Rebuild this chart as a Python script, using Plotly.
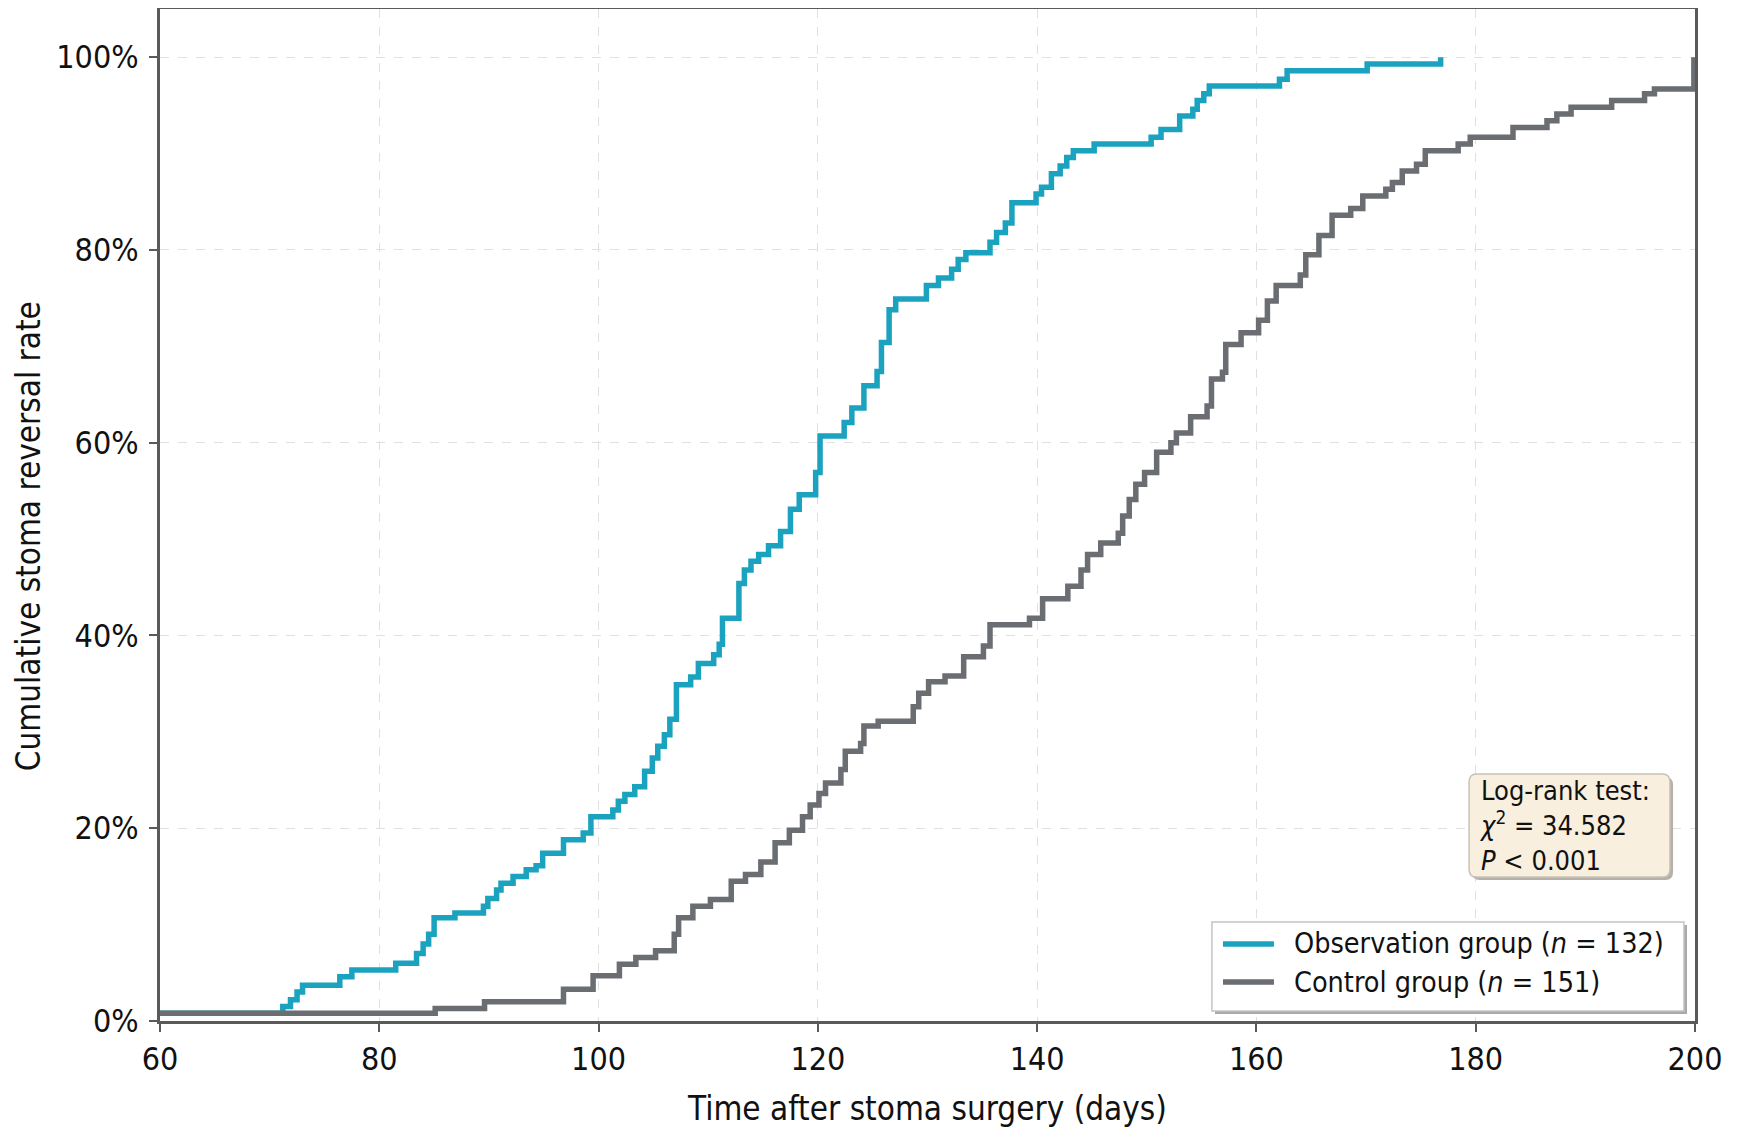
import plotly.graph_objects as go

# Observation group: event times (days) and cumulative reversal rate (%) after each event
obs_t = [60, 71.2, 71.9, 72.5, 73.0, 76.4, 77.5, 81.5, 83.4, 84.0, 84.5, 85.0, 86.9, 89.5, 89.9,
         90.7, 91.1, 92.2, 93.4, 94.3, 94.9, 96.8, 98.6, 99.3, 101.3, 101.8, 102.4, 103.3, 104.2,
         104.9, 105.4, 106.0, 106.5, 107.1, 108.4, 109.1, 110.5, 111.0, 111.3, 112.8, 113.3, 113.9,
         114.6, 115.5, 116.6, 117.5, 118.3, 119.8, 120.2, 122.4, 123.1, 124.2, 125.4, 125.8, 126.5,
         127.1, 129.9, 131.0, 132.2, 132.8, 133.5, 135.7, 136.3, 137.1, 137.7, 139.9, 140.4, 141.3,
         142.1, 142.7, 143.3, 145.2, 150.4, 151.3, 153.0, 154.2, 154.6, 155.2, 155.7, 162.1, 162.8,
         170.1, 176.8]
obs_p = [0.8, 1.5, 2.2, 3.0, 3.7, 4.6, 5.3, 6.0, 7.0, 8.0, 9.0, 10.7, 11.2, 11.9, 12.7,
         13.6, 14.3, 15.0, 15.7, 16.1, 17.4, 18.8, 19.5, 21.2, 21.9, 22.8, 23.5, 24.3, 25.9,
         27.3, 28.5, 29.7, 31.3, 34.9, 35.7, 37.1, 38.0, 39.1, 41.8, 45.4, 46.8, 47.7,
         48.4, 49.3, 50.8, 53.1, 54.6, 56.9, 60.7, 62.1, 63.6, 65.9, 67.4, 70.4, 73.8,
         74.9, 76.3, 77.1, 78.0, 79.0, 79.7, 80.8, 81.8, 82.8, 84.9, 85.8, 86.5, 87.9,
         88.7, 89.6, 90.3, 91.0, 91.7, 92.5, 93.9, 94.6, 95.5, 96.2, 97.0, 97.7, 98.6,
         99.3, 100.0]

# Control group
ctl_t = [60, 85.1, 89.6, 96.8, 99.5, 101.9, 103.4, 105.2, 106.9, 107.3, 108.6, 110.2, 112.1,
         113.4, 114.8, 116.1, 117.4, 118.6, 119.3, 120.1, 120.7, 122.1, 122.5, 123.9, 124.2,
         125.5, 128.7, 129.2, 130.1, 131.6, 133.3, 135.1, 135.7, 139.3, 140.5, 142.8, 144.0,
         144.6, 145.8, 147.4, 147.8, 148.4, 149.0, 149.8, 150.9, 152.2, 152.7, 154.0, 155.5,
         155.9, 156.9, 157.2, 158.6, 160.2, 161.0, 161.8, 164.0, 164.5, 165.7, 166.9, 168.6,
         169.7, 171.8, 172.4, 173.3, 174.6, 175.4, 178.4, 179.5, 183.4, 186.5, 187.4, 188.7,
         192.4, 195.4, 196.3, 199.9]
ctl_p = [0.8, 1.3, 2.0, 3.3, 4.7, 5.9, 6.6, 7.3, 9.0, 10.7, 11.9, 12.6, 14.5,
         15.2, 16.5, 18.5, 19.8, 21.2, 22.4, 23.6, 24.7, 26.1, 28.0, 28.8, 30.6,
         31.1, 32.6, 34.0, 35.2, 35.8, 37.8, 38.9, 41.1, 41.8, 43.8, 45.1, 46.8,
         48.4, 49.6, 50.6, 52.4, 54.1, 55.7, 56.9, 59.0, 60.0, 61.0, 62.7, 63.8,
         66.6, 67.3, 70.2, 71.4, 72.7, 74.7, 76.3, 77.4, 79.5, 81.5, 83.6, 84.3,
         85.6, 86.3, 87.0, 88.2, 88.9, 90.3, 91.0, 91.7, 92.7, 93.4, 94.1, 94.8,
         95.5, 96.2, 96.7, 100.0]

series_names = ["Observation group (<i>n</i> = 132)", "Control group (<i>n</i> = 151)"]
x_ticks = [60, 80, 100, 120, 140, 160, 180, 200]
y_ticks = [0, 20, 40, 60, 80, 100]
y_tick_labels = ["0%", "20%", "40%", "60%", "80%", "100%"]
stat_lines = ["Log-rank test:", "<i>χ</i><sup>2</sup> = 34.582", "<i>P</i> &lt; 0.001"]

FONT = "DejaVu Sans Condensed, DejaVu Sans, sans-serif"
CYAN = "#1aa2bf"
GREY = "#6a6d71"
AXIS = "#5a5a5a"
TXT = "#111111"
colors = [CYAN, GREY]

fig = go.Figure()
for t, p, c, n in zip([obs_t, ctl_t], [obs_p, ctl_p], colors, series_names):
    fig.add_trace(go.Scatter(x=t, y=p, mode="lines", line_shape="hv",
                             line=dict(color=c, width=5.5), name=n, showlegend=False))

fig.update_layout(
    width=1744, height=1138,
    margin=dict(l=152, r=57, t=1, b=125),
    paper_bgcolor="white", plot_bgcolor="white",
    font=dict(family=FONT, size=28, color=TXT),
    xaxis=dict(range=[60, 200], tickvals=x_ticks, ticks="outside", ticklen=8, tickwidth=2,
               tickcolor=AXIS, showline=True, linecolor=AXIS, linewidth=3, mirror=True,
               showgrid=True, gridcolor="#e0e0e0", griddash="dash", gridwidth=1,
               zeroline=False, automargin=False,
               tickfont=dict(size=32),
               title=dict(text="Time after stoma surgery (days)", font=dict(size=33), standoff=20)),
    yaxis=dict(range=[0, 105], tickvals=y_ticks, ticktext=y_tick_labels, ticks="outside",
               ticklen=8, tickwidth=2, tickcolor=AXIS, showline=True, linecolor=AXIS,
               linewidth=3, mirror=True, showgrid=True, gridcolor="#e0e0e0", griddash="dash",
               gridwidth=1, zeroline=False, automargin=False,
               tickfont=dict(size=32), ticklabelstandoff=4),
    showlegend=False,
)

# y-axis title (placed slightly below the plot centre, as in the original)
fig.add_annotation(xref="paper", yref="paper", x=-0.086, y=0.479, xanchor="center",
                   yanchor="middle", textangle=-90, showarrow=False,
                   text="Cumulative stoma reversal rate", font=dict(size=33, color=TXT))

# ---- legend box (drawn manually to match the original layout) ----
lx0, lx1, ly0, ly1 = 0.6853, 0.9928, 0.0099, 0.0978
fig.add_shape(type="rect", xref="paper", yref="paper", x0=lx0 + 0.002, x1=lx1 + 0.002,
              y0=ly0 - 0.003, y1=ly1 - 0.003, fillcolor="#a9a9a9", line=dict(width=0), layer="above")
fig.add_shape(type="rect", xref="paper", yref="paper", x0=lx0, x1=lx1, y0=ly0, y1=ly1,
              fillcolor="white", line=dict(color="#c4c4c4", width=1.5), layer="above")
row_y = [0.0761, 0.0385]
for c, n, yy in zip(colors, series_names, row_y):
    fig.add_shape(type="line", xref="paper", yref="paper", x0=0.6925, x1=0.7257, y0=yy, y1=yy,
                  line=dict(color=c, width=5.5), layer="above")
    fig.add_annotation(xref="paper", yref="paper", x=0.7375, y=yy, xanchor="left",
                       yanchor="middle", showarrow=False, text=n,
                       font=dict(size=28.5, color=TXT))

# ---- log-rank test box ----
bx0, bx1, by0, by1 = 0.8528, 0.9837, 0.1423, 0.2441
rx, ry = 0.005, 0.008
def rrect(x0, x1, y0, y1):
    return (f"M{x0+rx},{y0} L{x1-rx},{y0} Q{x1},{y0} {x1},{y0+ry} L{x1},{y1-ry} "
            f"Q{x1},{y1} {x1-rx},{y1} L{x0+rx},{y1} Q{x0},{y1} {x0},{y1-ry} "
            f"L{x0},{y0+ry} Q{x0},{y0} {x0+rx},{y0} Z")
fig.add_shape(type="path", xref="paper", yref="paper",
              path=rrect(bx0 + 0.002, bx1 + 0.002, by0 - 0.003, by1 - 0.003),
              fillcolor="#b5b0a8", line=dict(width=0), layer="above")
fig.add_shape(type="path", xref="paper", yref="paper", path=rrect(bx0, bx1, by0, by1),
              fillcolor="#f8efde", line=dict(color="#c9c2b6", width=1.5), layer="above")
fig.add_annotation(xref="paper", yref="paper", x=0.8578, y=0.1930, xanchor="left",
                   yanchor="middle", showarrow=False, align="left",
                   text="<br>".join(stat_lines), font=dict(size=27, color=TXT))

fig.write_html("out.html")
